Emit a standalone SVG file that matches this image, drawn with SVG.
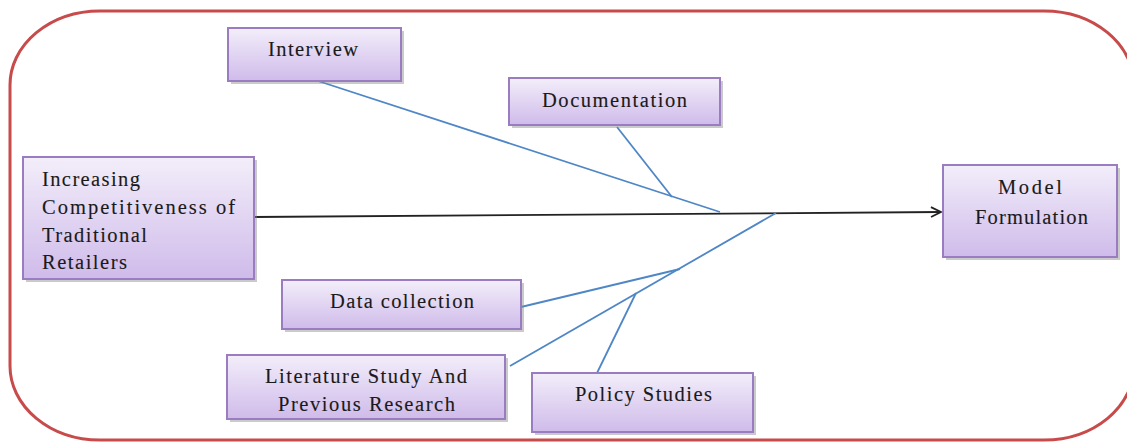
<svg xmlns="http://www.w3.org/2000/svg" width="1127" height="444" viewBox="0 0 1127 444">
  <defs>
    <linearGradient id="boxfill" x1="0" y1="0" x2="0" y2="1">
      <stop offset="0" stop-color="#f3eefa"/>
      <stop offset="1" stop-color="#cfbbea"/>
    </linearGradient>
    <marker id="chev" viewBox="0 0 12 12" refX="11" refY="6" markerWidth="12" markerHeight="12" markerUnits="userSpaceOnUse" orient="auto">
      <path d="M1,1 L11,6 L1,11" fill="none" stroke="#222" stroke-width="1.8"/>
    </marker>
  </defs>
  <style>
    .box { fill: url(#boxfill); stroke: #9a7cc0; stroke-width: 2; }
    .shadow { fill: #8a8a8a; opacity: 0.45; }
    .lbl { font-family: "Liberation Serif", "Times New Roman", serif; font-size: 20.5px; fill: #1a1a1a; stroke: #1a1a1a; stroke-width: 0.12; }
    .branch { stroke: #4f86c6; stroke-width: 1.8; fill: none; }
  </style>
  <rect x="10" y="11" width="1124" height="429" rx="90" ry="74" fill="none" stroke="#c84b4b" stroke-width="3"/>

  <g id="connectors">
    <line x1="254" y1="217" x2="941" y2="212" stroke="#222" stroke-width="1.8" marker-end="url(#chev)"/>
    <line class="branch" x1="315" y1="80" x2="720" y2="212"/>
    <line class="branch" x1="617" y1="127" x2="672" y2="197"/>
    <line class="branch" x1="776" y1="213" x2="510" y2="366"/>
    <line class="branch" x1="521" y1="307" x2="680" y2="269"/>
    <line class="branch" x1="597" y1="373" x2="636" y2="293"/>
  </g>

  <g id="interview">
    <rect class="shadow" x="231" y="31" width="173" height="53"/>
    <rect class="box" x="228" y="28" width="173" height="53"/>
    <text class="lbl" x="268" y="56" textLength="90" lengthAdjust="spacing">Interview</text>
  </g>

  <g id="documentation">
    <rect class="shadow" x="512" y="81" width="211" height="47"/>
    <rect class="box" x="509" y="78" width="211" height="47"/>
    <text class="lbl" x="542" y="107" textLength="145" lengthAdjust="spacing">Documentation</text>
  </g>

  <g id="increasing">
    <rect class="shadow" x="26" y="160" width="231" height="122"/>
    <rect class="box" x="23" y="157" width="231" height="122"/>
    <text class="lbl" x="42" y="186" textLength="98" lengthAdjust="spacing">Increasing</text>
    <text class="lbl" x="42" y="214" textLength="193" lengthAdjust="spacing">Competitiveness  of</text>
    <text class="lbl" x="42" y="242" textLength="105" lengthAdjust="spacing">Traditional</text>
    <text class="lbl" x="42" y="269" textLength="85" lengthAdjust="spacing">Retailers</text>
  </g>

  <g id="model">
    <rect class="shadow" x="946" y="168" width="174" height="92"/>
    <rect class="box" x="943" y="165" width="174" height="92"/>
    <text class="lbl" x="998" y="194" textLength="64" lengthAdjust="spacing">Model</text>
    <text class="lbl" x="975" y="224" textLength="113" lengthAdjust="spacing">Formulation</text>
  </g>

  <g id="data-collection">
    <rect class="shadow" x="285" y="283" width="239" height="49"/>
    <rect class="box" x="282" y="280" width="239" height="49"/>
    <text class="lbl" x="330" y="308" textLength="144" lengthAdjust="spacing">Data collection</text>
  </g>

  <g id="literature">
    <rect class="shadow" x="230" y="358" width="278" height="64"/>
    <rect class="box" x="227" y="355" width="278" height="64"/>
    <text class="lbl" x="265" y="383" textLength="202" lengthAdjust="spacing">Literature Study And</text>
    <text class="lbl" x="278" y="411" textLength="177" lengthAdjust="spacing">Previous Research</text>
  </g>

  <g id="policy">
    <rect class="shadow" x="535" y="376" width="221" height="59"/>
    <rect class="box" x="532" y="373" width="221" height="59"/>
    <text class="lbl" x="575" y="401" textLength="137" lengthAdjust="spacing">Policy Studies</text>
  </g>
</svg>
